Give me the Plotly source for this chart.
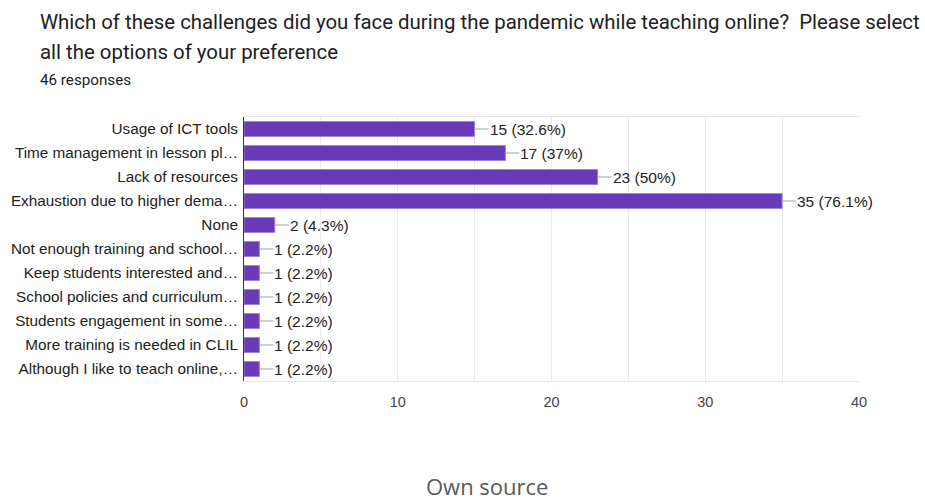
import plotly.graph_objects as go

categories = [
    "Usage of ICT tools",
    "Time management in lesson pl…",
    "Lack of resources",
    "Exhaustion due to higher dema…",
    "None",
    "Not enough training and school…",
    "Keep students interested and…",
    "School policies and curriculum…",
    "Students engagement in some…",
    "More training is needed in CLIL",
    "Although I like to teach online,…",
]
counts = [15, 17, 23, 35, 2, 1, 1, 1, 1, 1, 1]
percents = ["32.6%", "37%", "50%", "76.1%", "4.3%", "2.2%", "2.2%", "2.2%", "2.2%", "2.2%", "2.2%"]
x_ticks = [0, 10, 20, 30, 40]

title_lines = [
    "Which of these challenges did you face during the pandemic while teaching online?  Please select",
    "all the options of your preference",
]
subtitle_text = "46 responses"
source_text = "Own source"

# plot area in pixels (for converting page positions to paper coords)
L, R, T, B = 244, 859, 117, 381
def px(xp):
    return (xp - L) / (R - L)
def py(yp):
    return (B - yp) / (B - T)

fig = go.Figure()
fig.add_trace(go.Bar(
    x=counts, y=categories, orientation="h",
    marker=dict(color="#673ab7", line=dict(color="#9c83d0", width=1)),
    width=0.62, hoverinfo="skip",
))

annotations = []
for c, cat, p in zip(counts, categories, percents):
    annotations.append(dict(
        x=c, y=cat, xref="x", yref="y", text=f"{c} ({p})",
        showarrow=True, arrowhead=0, arrowwidth=1, arrowcolor="#9e9e9e",
        ax=14, ay=0, xanchor="left", standoff=0, borderpad=0,
        font=dict(family="Arial, Liberation Sans", size=15.5, color="#222222"),
    ))

for line, yc in zip(title_lines, [22, 52]):
    annotations.append(dict(
        text=line, xref="paper", yref="paper", x=px(38), y=py(yc),
        xanchor="left", yanchor="middle", showarrow=False,
        font=dict(family="Roboto", size=20.4, color="#202124"),
    ))

annotations += [
    dict(text=subtitle_text, xref="paper", yref="paper",
         x=px(38), y=py(80), xanchor="left", yanchor="middle",
         showarrow=False, font=dict(family="Roboto", size=15.2, color="#202124")),
    dict(text=source_text, xref="paper", yref="paper",
         x=px(487), y=py(486), xanchor="center", yanchor="middle",
         showarrow=False, font=dict(family="Open Sans", size=22, color="#595959")),
]

fig.update_layout(
    width=925, height=502,
    margin=dict(l=L, r=925 - R, t=T, b=502 - B),
    paper_bgcolor="white", plot_bgcolor="white",
    showlegend=False,
    font=dict(family="Arial, Liberation Sans", size=15, color="#222222"),
    xaxis=dict(
        range=[0, 40], tickvals=x_ticks, ticktext=[str(t) for t in x_ticks],
        showgrid=True, gridcolor="#ebebeb", gridwidth=1,
        minor=dict(dtick=5, showgrid=True, gridcolor="#ebebeb", gridwidth=1),
        zeroline=False, showline=True, linecolor="#e6e6e6", mirror=True,
        ticks="outside", ticklen=8, tickcolor="rgba(0,0,0,0)",
        tickfont=dict(family="Arial, Liberation Sans", size=14.5, color="#444444"),
        fixedrange=True,
    ),
    yaxis=dict(
        autorange="reversed", showgrid=False, showline=True, linecolor="#333333",
        linewidth=1, ticks="", ticklabelstandoff=2,
        tickfont=dict(family="Arial, Liberation Sans", size=15.3, color="#222222"),
        fixedrange=True,
    ),
    annotations=annotations,
)

fig.write_html("out.html")
